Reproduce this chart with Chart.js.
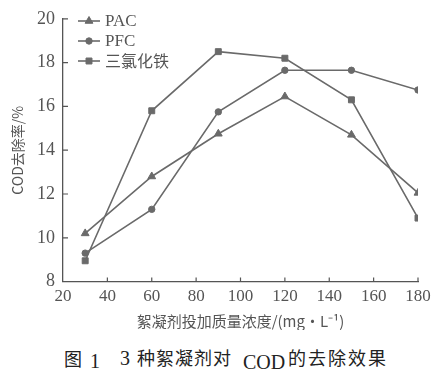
<!DOCTYPE html>
<html><head><meta charset="utf-8">
<script src="https://cdn.jsdelivr.net/npm/chart.js@4/dist/chart.umd.min.js"></script>
<style>
html,body{margin:0;padding:0;background:#fff;}
#wrap{position:absolute;left:0;top:0;width:438px;height:330px;}
#cap{position:absolute;left:0;top:343px;width:438px;height:30px;font-family:"Noto Sans CJK SC",sans-serif;font-size:18px;color:#222;white-space:nowrap;}
#cap span{position:absolute;}
.num{font-family:"Liberation Serif",serif;font-size:20px;}
</style></head>
<body>
<div id="wrap"><canvas id="c" width="438" height="330"></canvas></div>
<div id="cap"><span style="left:64px;top:2px">图</span><span class="num" style="left:90px;top:7px">1</span><span class="num" style="left:120px;top:4px">3</span><span style="left:137px;top:1px;letter-spacing:1px">种絮凝剂对</span><span class="num" style="left:243px;top:8px">COD</span><span style="left:288px;top:1px;letter-spacing:2px">的去除效果</span></div>
<script>
const doses = [30, 60, 90, 120, 150, 180];
const pacValues = [10.2, 12.8, 14.75, 16.45, 14.7, 12.05];
const pfcValues = [9.3, 11.3, 15.75, 17.65, 17.65, 16.75];
const fecl3Values = [8.95, 15.8, 18.5, 18.2, 16.3, 10.9];
const seriesNames = ["PAC", "PFC", "三氯化铁"];
const xTicks = [20, 40, 60, 80, 100, 120, 140, 160, 180];
const yTicks = [8, 10, 12, 14, 16, 18, 20];

const lineColor = "#6a6a6a";
const textColor = "#555";
const serif = '"Liberation Serif", "DejaVu Serif", serif';
const cjk = '"Noto Sans CJK SC", sans-serif';

function pts(vals){ return doses.map((d,i)=>({x:d,y:vals[i]})); }

const styles = [
  {pointStyle:'triangle', radius:4.5},
  {pointStyle:'circle', radius:3.2},
  {pointStyle:'rect', radius:4.2}
];
const datasets = [pacValues, pfcValues, fecl3Values].map((v,i)=>({
  label: seriesNames[i],
  data: pts(v),
  borderColor: lineColor,
  backgroundColor: lineColor,
  borderWidth: 1.6,
  pointStyle: styles[i].pointStyle,
  pointRadius: styles[i].radius,
  pointBackgroundColor: lineColor,
  pointBorderColor: lineColor,
  pointBorderWidth: 1,
  tension: 0,
  fill: false
}));

const inwardTicks = {
  id: 'inwardTicks',
  afterDraw(chart){
    const ctx = chart.ctx, xs = chart.scales.x, ys = chart.scales.y;
    const a = chart.chartArea;
    ctx.save();
    ctx.strokeStyle = "#555";
    ctx.lineWidth = 1.2;
    ctx.beginPath();
    xTicks.forEach(t=>{ if(t===xTicks[0]) return; const px = xs.getPixelForValue(t); ctx.moveTo(px, a.bottom); ctx.lineTo(px, a.bottom-4); });
    yTicks.forEach(t=>{ if(t===yTicks[0]) return; const py = ys.getPixelForValue(t); ctx.moveTo(a.left, py); ctx.lineTo(a.left+5, py); });
    ctx.stroke();
    ctx.restore();
  }
};

const insideLegend = {
  id: 'insideLegend',
  afterDraw(chart){
    const ctx = chart.ctx;
    const x0 = 78, x1 = 100;
    const rows = [21, 41, 61];
    ctx.save();
    chart.data.datasets.forEach((ds,i)=>{
      const y = rows[i];
      ctx.strokeStyle = ds.borderColor;
      ctx.lineWidth = 1.6;
      ctx.beginPath(); ctx.moveTo(x0,y); ctx.lineTo(x1,y); ctx.stroke();
      ctx.fillStyle = ds.pointBackgroundColor;
      ctx.strokeStyle = ds.pointBorderColor;
      ctx.lineWidth = 1;
      Chart.helpers.drawPoint(ctx, {pointStyle: ds.pointStyle, radius: ds.pointRadius, borderWidth:1}, (x0+x1)/2, y);
      ctx.fillStyle = textColor;
      ctx.textBaseline = 'middle';
      ctx.textAlign = 'left';
      ctx.font = i < 2 ? '17px ' + serif : '16px ' + cjk;
      ctx.fillText(ds.label, 105, y + (i<2?1:0));
    });
    ctx.restore();
  }
};

function build(){
  new Chart(document.getElementById('c'), {
    type: 'line',
    data: { datasets },
    options: {
      responsive: false,
      animation: false,
      devicePixelRatio: 1,
      layout: { padding: { top: 17, right: 20, left: 0, bottom: 0 } },
      plugins: { legend: { display: false }, tooltip: { enabled: false } },
      scales: {
        x: {
          type: 'linear', min: 20, max: 180,
          afterBuildTicks(s){ s.ticks = xTicks.map(v=>({value:v})); },
          grid: { drawOnChartArea: false, drawTicks: false },
          border: { display: true, color: "#555", width: 1.3 },
          ticks: { color: textColor, font: { family: serif, size: 17 }, padding: 5, maxRotation: 0, autoSkip: false },
          title: { display: true, text: '絮凝剂投加质量浓度/(mg·L⁻¹)', color: textColor, font: { family: cjk, size: 15 }, padding: { top: 0, bottom: 0 } }
        },
        y: {
          type: 'linear', min: 8, max: 20,
          afterBuildTicks(s){ s.ticks = yTicks.map(v=>({value:v})); },
          afterFit(s){ s.width = 63; },
          grid: { drawOnChartArea: false, drawTicks: false },
          border: { display: true, color: "#555", width: 1.3 },
          ticks: { color: textColor, font: { family: serif, size: 18 }, padding: 8 },
          title: { display: true, text: 'COD去除率/%', color: textColor, font: { family: cjk, size: 14 }, padding: { top: 9, bottom: 0 } }
        }
      }
    },
    plugins: [inwardTicks, insideLegend]
  });
}
Promise.all([
  document.fonts.load('17px "Liberation Serif"'),
  document.fonts.load('16px "Noto Sans CJK SC"', '三氯化铁絮凝剂')
]).then(build, build);
</script>
</body></html>
